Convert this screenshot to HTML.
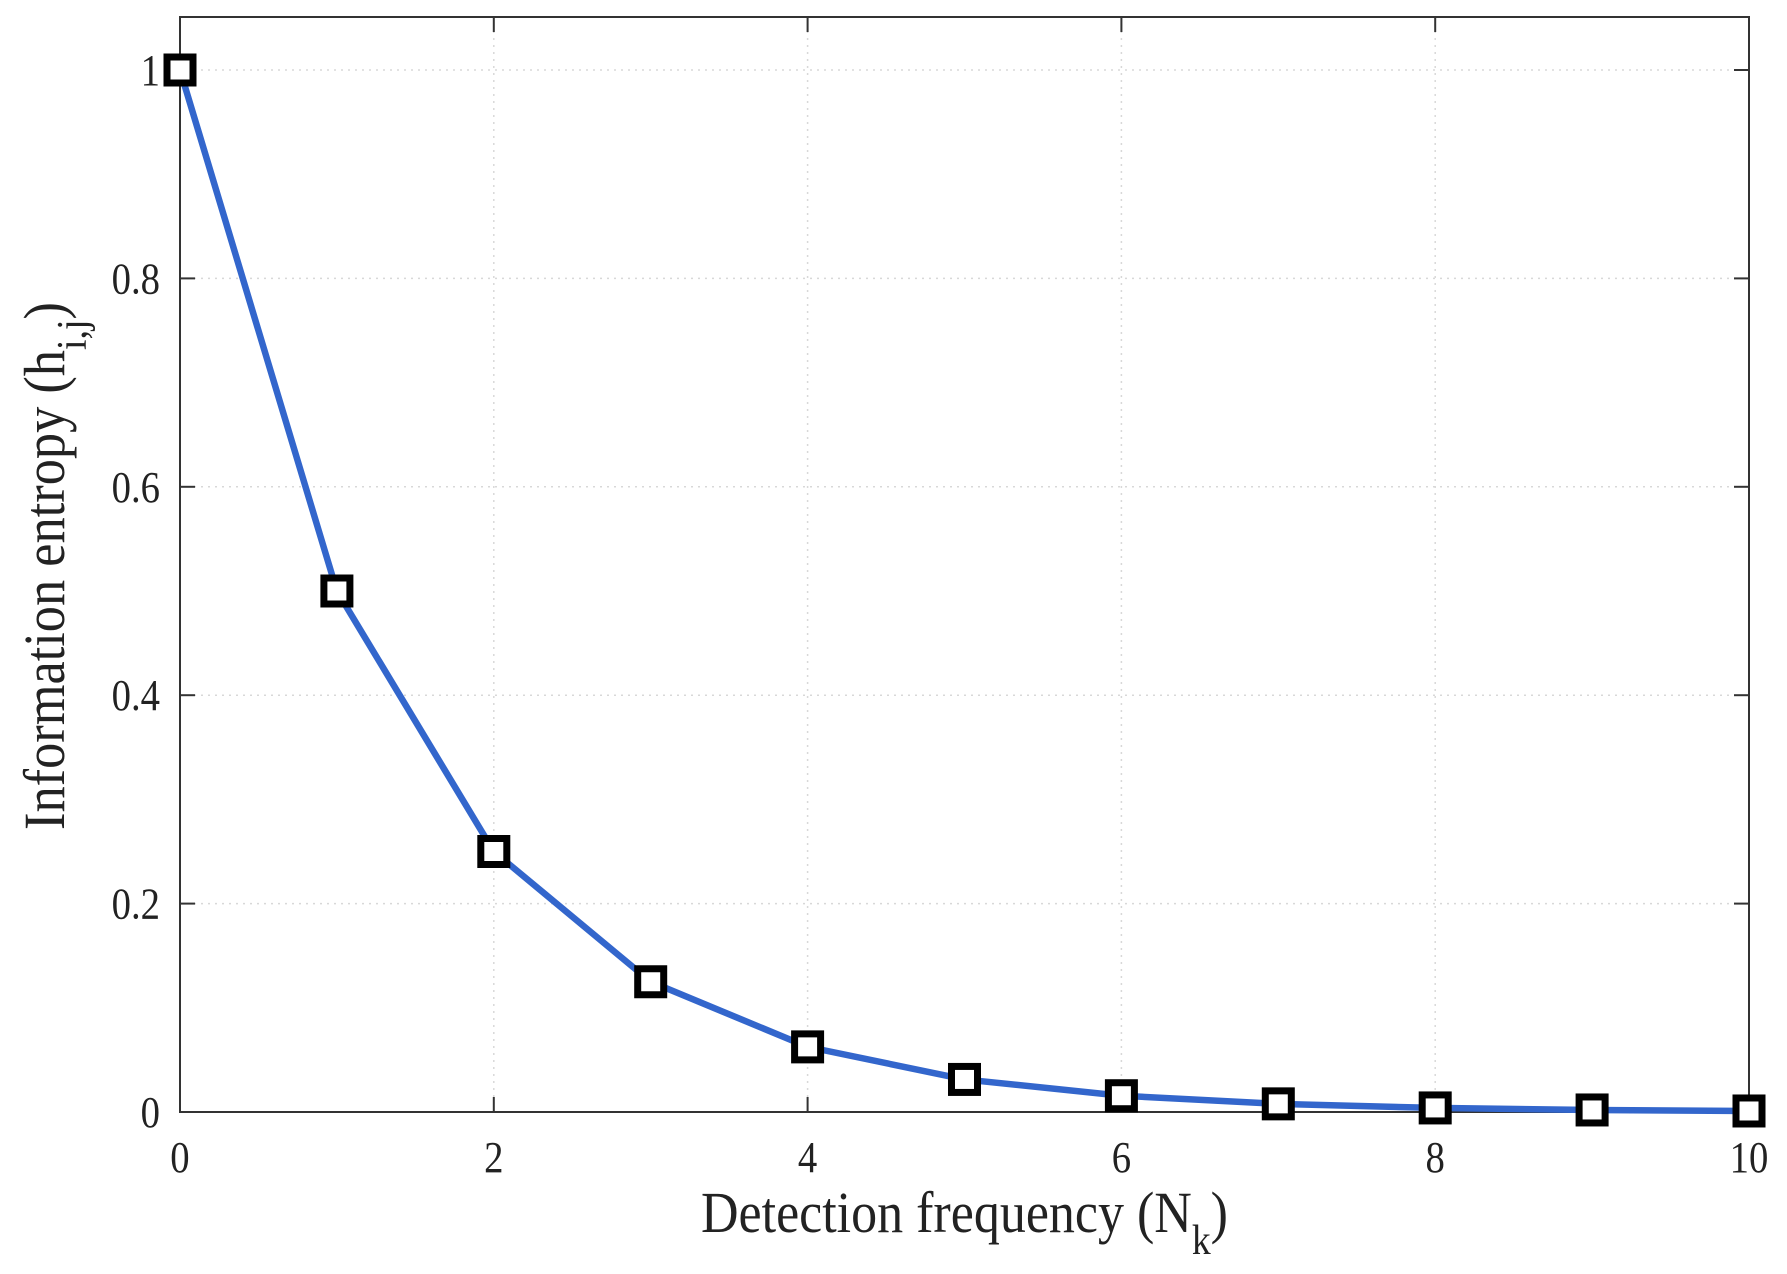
<!DOCTYPE html>
<html><head><meta charset="utf-8"><style>
html,body{margin:0;padding:0;background:#fff;}
svg{display:block;font-family:"Liberation Serif",serif;}
</style></head><body>
<svg id="c" width="1787" height="1274" viewBox="0 0 1787 1274"></svg>
<script>
const xValues=[0,1,2,3,4,5,6,7,8,9,10];
const yValues=[1,0.5,0.25,0.125,0.0625,0.03125,0.015625,0.0078125,0.00390625,0.001953125,0.0009765625];
const xTicks=[0,2,4,6,8,10];
const yTicks=[0,0.2,0.4,0.6,0.8,1];
const yTickLabels=["0","0.2","0.4","0.6","0.8","1"];
const L=180,R=1749,T=17,B=1112;
const xs=v=>L+(R-L)*v/10;
const ys=v=>B-(B-70)*v;
const svg=document.getElementById('c');
const NS='http://www.w3.org/2000/svg';
function mk(t,a,p){const e=document.createElementNS(NS,t);for(const k in a)e.setAttribute(k,a[k]);(p||svg).appendChild(e);return e;}
xTicks.forEach(v=>{const g=mk('line',{x1:xs(v),x2:xs(v),y1:T,y2:B,stroke:'#d8d8d8','stroke-width':1.5,'stroke-dasharray':'2,5'});
});
yTicks.forEach(v=>{const g=mk('line',{x1:L,x2:R,y1:ys(v),y2:ys(v),stroke:'#d8d8d8','stroke-width':1.5,'stroke-dasharray':'2,5'});
});
const f=mk('rect',{x:L,y:T,width:R-L,height:B-T,fill:'none',stroke:'#333','stroke-width':2});

xTicks.forEach(v=>{
 mk('line',{x1:xs(v),x2:xs(v),y1:B,y2:B-15,stroke:'#333','stroke-width':2});
 mk('line',{x1:xs(v),x2:xs(v),y1:T,y2:T+15,stroke:'#333','stroke-width':2});
 const t=mk('text',{x:xs(v),y:1172,'font-size':44,'text-anchor':'middle',fill:'#222',transform:`translate(${xs(v)*0.12},0) scale(0.88,1)`});
 t.textContent=String(v);
 
});
yTicks.forEach((v,i)=>{
 mk('line',{x1:L,x2:L+15,y1:ys(v),y2:ys(v),stroke:'#333','stroke-width':2});
 mk('line',{x1:R,x2:R-15,y1:ys(v),y2:ys(v),stroke:'#333','stroke-width':2});
 const t=mk('text',{x:160,y:ys(v)+15,'font-size':44,'text-anchor':'end',fill:'#222',transform:`translate(${160*0.12},0) scale(0.88,1)`});
 t.textContent=yTickLabels[i];
 
});
const pts=xValues.map((x,i)=>xs(x)+','+ys(yValues[i])).join(' ');
const pl=mk('polyline',{points:pts,fill:'none',stroke:'#3366cc','stroke-width':6.5,'stroke-linejoin':'round'});

xValues.forEach((x,i)=>{
 const m=mk('rect',{x:xs(x)-13,y:ys(yValues[i])-13,width:26,height:26,fill:'#fff',stroke:'#000','stroke-width':7});
 
});
</script>
<svg style="position:absolute;left:0;top:0" width="1787" height="1274">
<text x="701" y="1232" font-size="58" fill="#222" textLength="527" lengthAdjust="spacingAndGlyphs" font-family="Liberation Serif, serif">Detection frequency (N<tspan dy="22" font-size="42">k</tspan><tspan dy="-22">)</tspan></text>
<text transform="translate(64,830) rotate(-90)" font-size="58" fill="#222" textLength="528" lengthAdjust="spacingAndGlyphs" font-family="Liberation Serif, serif">Information entropy (h<tspan dy="22" font-size="42">i,j</tspan><tspan dy="-22">)</tspan></text>
</svg>
</body></html>
